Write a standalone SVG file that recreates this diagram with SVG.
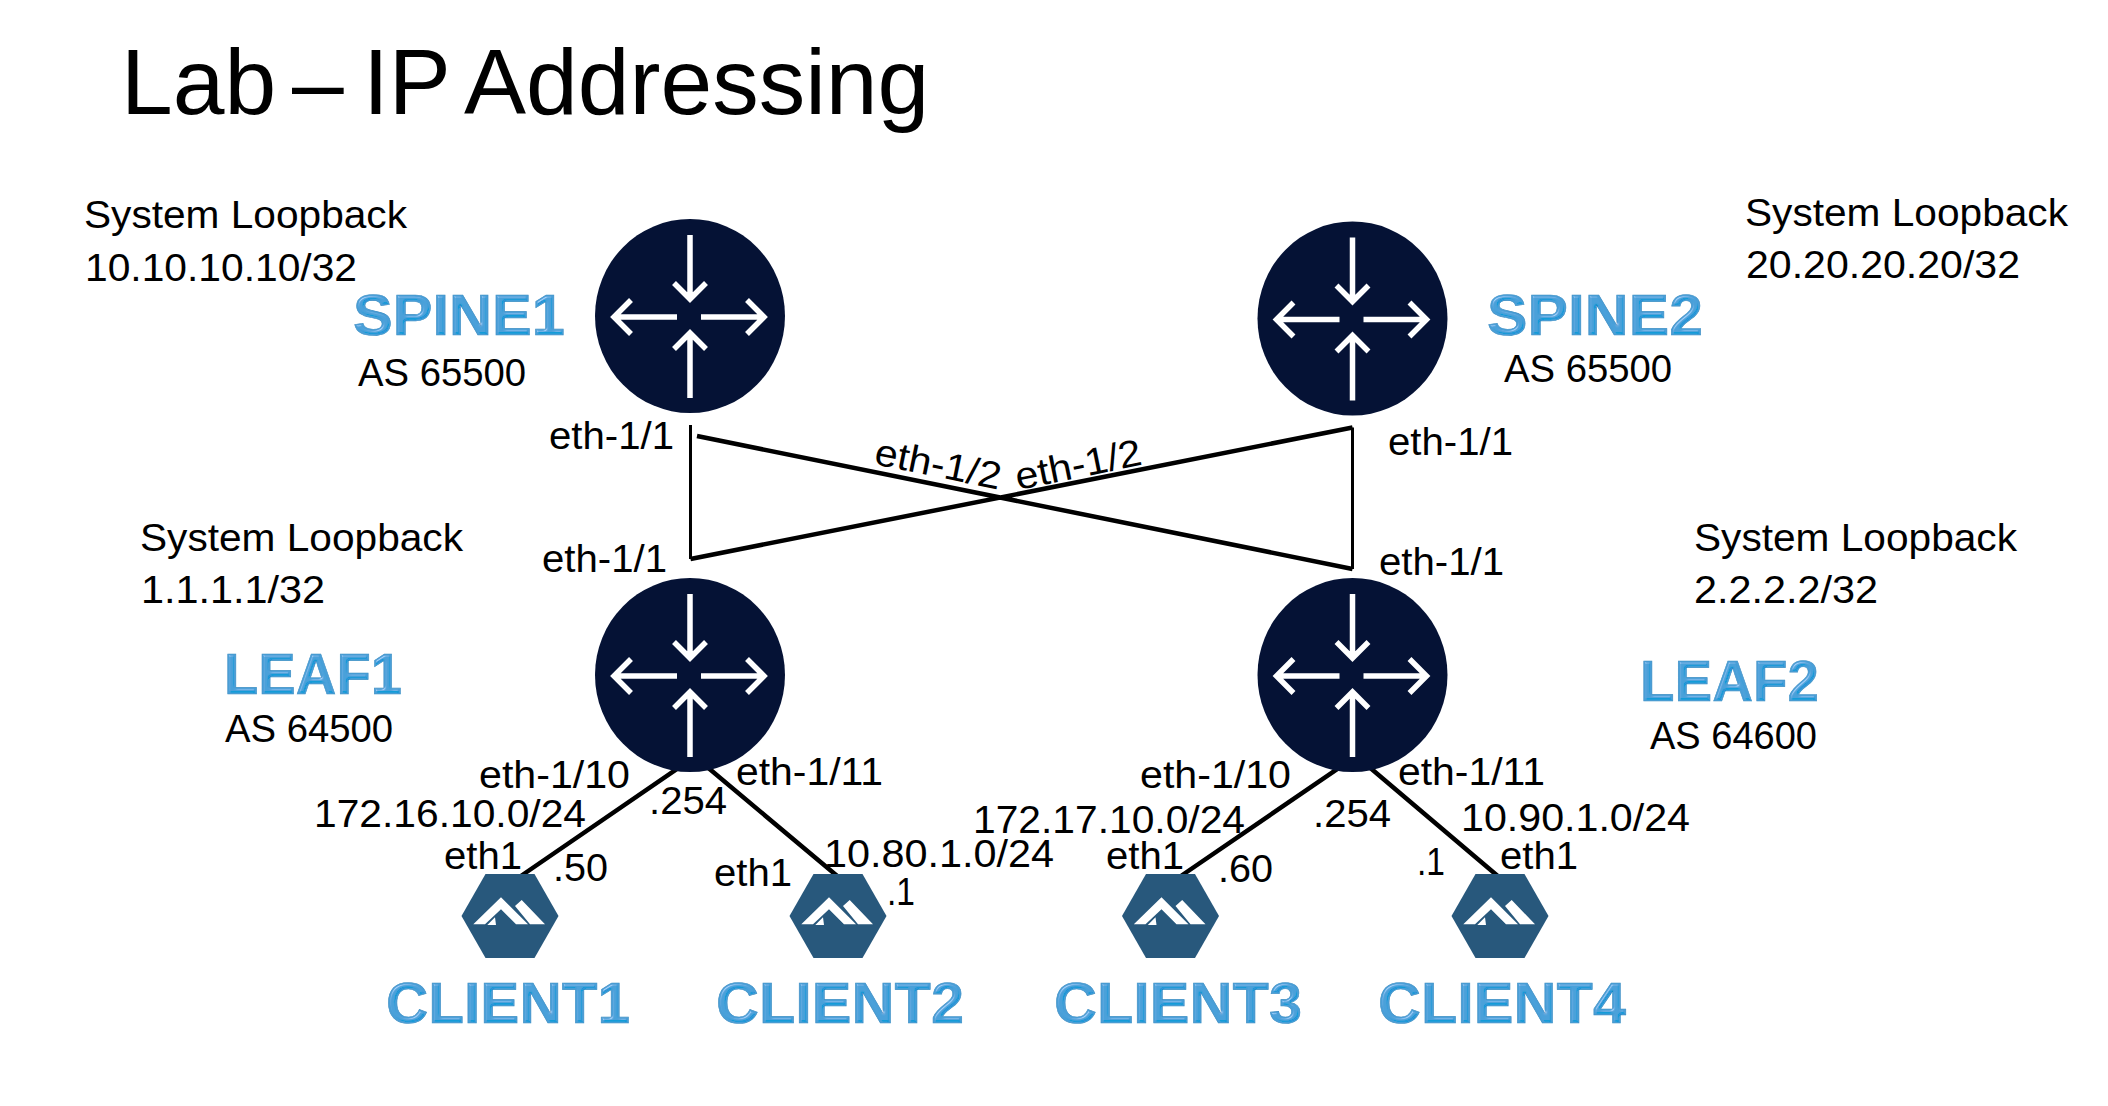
<svg xmlns="http://www.w3.org/2000/svg" width="2108" height="1106" viewBox="0 0 2108 1106">
<style>
text{font-family:"Liberation Sans",Arial,sans-serif;fill:#000}
.title{font-size:93px}
.t{font-size:38px}
.name{font-size:58px;font-weight:bold;fill:#4a9fd8;stroke:#3f8fc4;stroke-width:.6;filter:url(#bevel)}
.thin{stroke:#000;stroke-width:3;fill:none}
.link{stroke:#000;stroke-width:4.500;fill:none;stroke-linejoin:round}
.arr{stroke:#fff;stroke-width:5.500;fill:none}
</style>
<defs>
<filter id="bevel" x="-5%" y="-10%" width="110%" height="120%">
<feGaussianBlur in="SourceAlpha" stdDeviation="1.3" result="b"/>
<feSpecularLighting in="b" surfaceScale="3" specularConstant=".3" specularExponent="25" lighting-color="#fff" result="s"><feDistantLight azimuth="235" elevation="35"/></feSpecularLighting>
<feSpecularLighting in="b" surfaceScale="3" specularConstant=".5" specularExponent="20" lighting-color="#fff" result="d"><feDistantLight azimuth="55" elevation="35"/></feSpecularLighting>
<feComposite in="s" in2="SourceAlpha" operator="in" result="s2"/>
<feComposite in="d" in2="SourceAlpha" operator="in" result="d2"/>
<feComposite in="SourceGraphic" in2="s2" operator="arithmetic" k1="0" k2="1" k3="1" k4="0" result="lit"/>
<feComposite in="lit" in2="d2" operator="arithmetic" k1="0" k2="1" k3="-.5" k4="0"/>
</filter>
<g id="router">
<ellipse rx="95" ry="97" fill="#051235"/>
<path class="arr" d="M0-81V-17M-16-33L0-17L16-33M0 82V17M-16 33L0 17L16 33M-13 1H-76M-59-16L-76 1L-59 18M11 1H74M57-16L74 1L57 18"/>
</g>
<g id="client">
<path d="M-24.500-42H24.500L48.500 0L24.500 42H-24.500L-48.500 0Z" fill="#28587c"/>
<path d="M-36.700 8.300L-9-18.700L18 8.300H6L-9-6.700L-25 8.300ZM-22.700 9L-15 1.300L-14 9ZM5-10L11.700-16L35 8.300H20Z" fill="#fff"/>
</g>
</defs>
<rect width="2108" height="1106" fill="#fff"/>
<text class="title" y="114"><tspan x="121">Lab</tspan><tspan x="292">–</tspan><tspan x="363">IP</tspan><tspan x="464">Addressing</tspan></text>
<g id="connectors">
<path class="thin" d="M690.500 425V559M1352.500 427.500V569"/>
<path class="link" d="M690.500 559L1352.500 427.500M1352.500 569L697 436"/>
<path class="link" d="M518 878L690 760M706 766L839 877.500M1178 878L1350.500 760M1368 766L1499.500 877.500"/>
</g>
<g id="SPINE1"><use href="#router" x="690" y="316"/><text class="name" x="353" y="335" textLength="212" lengthAdjust="spacingAndGlyphs">SPINE1</text><text class="t" x="358" y="386" textLength="168" lengthAdjust="spacingAndGlyphs">AS 65500</text></g>
<g id="SPINE2"><use href="#router" x="1352.500" y="318.500"/><text class="name" x="1487" y="335" textLength="216" lengthAdjust="spacingAndGlyphs">SPINE2</text><text class="t" x="1504" y="382" textLength="168" lengthAdjust="spacingAndGlyphs">AS 65500</text></g>
<g id="LEAF1"><use href="#router" x="690" y="675"/><text class="name" x="224" y="694" textLength="178" lengthAdjust="spacingAndGlyphs">LEAF1</text><text class="t" x="225" y="742" textLength="168" lengthAdjust="spacingAndGlyphs">AS 64500</text></g>
<g id="LEAF2"><use href="#router" x="1352.500" y="675"/><text class="name" x="1640" y="701" textLength="179" lengthAdjust="spacingAndGlyphs">LEAF2</text><text class="t" x="1650" y="749" textLength="167" lengthAdjust="spacingAndGlyphs">AS 64600</text></g>
<g id="CLIENT1"><use href="#client" x="510" y="916"/><text class="name" x="386" y="1023" textLength="244" lengthAdjust="spacingAndGlyphs">CLIENT1</text></g>
<g id="CLIENT2"><use href="#client" x="838" y="916"/><text class="name" x="716" y="1023" textLength="248" lengthAdjust="spacingAndGlyphs">CLIENT2</text></g>
<g id="CLIENT3"><use href="#client" x="1170.500" y="916"/><text class="name" x="1054" y="1023" textLength="248" lengthAdjust="spacingAndGlyphs">CLIENT3</text></g>
<g id="CLIENT4"><use href="#client" x="1500" y="916"/><text class="name" x="1378" y="1023" textLength="248" lengthAdjust="spacingAndGlyphs">CLIENT4</text></g>
<g id="labels" transform="translate(0 2)">
<text class="t" x="84" y="226" textLength="323" lengthAdjust="spacingAndGlyphs">System Loopback</text><text class="t" x="85" y="279" textLength="272" lengthAdjust="spacingAndGlyphs">10.10.10.10/32</text>
<text class="t" x="1745" y="224" textLength="323" lengthAdjust="spacingAndGlyphs">System Loopback</text><text class="t" x="1746" y="276" textLength="274" lengthAdjust="spacingAndGlyphs">20.20.20.20/32</text>
<text class="t" x="140" y="549" textLength="323" lengthAdjust="spacingAndGlyphs">System Loopback</text><text class="t" x="141" y="601" textLength="184" lengthAdjust="spacingAndGlyphs">1.1.1.1/32</text>
<text class="t" x="1694" y="549" textLength="323" lengthAdjust="spacingAndGlyphs">System Loopback</text><text class="t" x="1694" y="601" textLength="184" lengthAdjust="spacingAndGlyphs">2.2.2.2/32</text>
<text class="t" x="549" y="447" textLength="125" lengthAdjust="spacingAndGlyphs">eth-1/1</text>
<text class="t" x="542" y="570" textLength="125" lengthAdjust="spacingAndGlyphs">eth-1/1</text>
<text class="t" x="1388" y="453" textLength="125" lengthAdjust="spacingAndGlyphs">eth-1/1</text>
<text class="t" x="1379" y="573" textLength="125" lengthAdjust="spacingAndGlyphs">eth-1/1</text>
<text class="t" transform="translate(873 462) rotate(11.500)" textLength="128" lengthAdjust="spacingAndGlyphs">eth-1/2</text>
<text class="t" transform="translate(1018 488) rotate(-11.500)" textLength="128" lengthAdjust="spacingAndGlyphs">eth-1/2</text>
<text class="t" x="479" y="786" textLength="151" lengthAdjust="spacingAndGlyphs">eth-1/10</text>
<text class="t" x="314" y="825" textLength="272" lengthAdjust="spacingAndGlyphs">172.16.10.0/24</text>
<text class="t" x="444" y="867" textLength="78" lengthAdjust="spacingAndGlyphs">eth1</text>
<text class="t" x="553" y="879" textLength="55" lengthAdjust="spacingAndGlyphs">.50</text>
<text class="t" x="649" y="812" textLength="78" lengthAdjust="spacingAndGlyphs">.254</text>
<text class="t" x="736" y="783" textLength="147" lengthAdjust="spacingAndGlyphs">eth-1/11</text>
<text class="t" x="714" y="884" textLength="78" lengthAdjust="spacingAndGlyphs">eth1</text>
<text class="t" x="824" y="864.500" textLength="230" lengthAdjust="spacingAndGlyphs">10.80.1.0/24</text>
<text class="t" x="887" y="903" textLength="28" lengthAdjust="spacingAndGlyphs">.1</text>
<text class="t" x="1140" y="786" textLength="151" lengthAdjust="spacingAndGlyphs">eth-1/10</text>
<text class="t" x="973" y="830.500" textLength="272" lengthAdjust="spacingAndGlyphs">172.17.10.0/24</text>
<text class="t" x="1106" y="867" textLength="78" lengthAdjust="spacingAndGlyphs">eth1</text>
<text class="t" x="1218" y="880" textLength="55" lengthAdjust="spacingAndGlyphs">.60</text>
<text class="t" x="1313" y="825" textLength="78" lengthAdjust="spacingAndGlyphs">.254</text>
<text class="t" x="1398" y="783" textLength="147" lengthAdjust="spacingAndGlyphs">eth-1/11</text>
<text class="t" x="1461" y="829" textLength="229" lengthAdjust="spacingAndGlyphs">10.90.1.0/24</text>
<text class="t" x="1500" y="867" textLength="78" lengthAdjust="spacingAndGlyphs">eth1</text>
<text class="t" x="1417" y="873" textLength="28" lengthAdjust="spacingAndGlyphs">.1</text>
</g>
</svg>
